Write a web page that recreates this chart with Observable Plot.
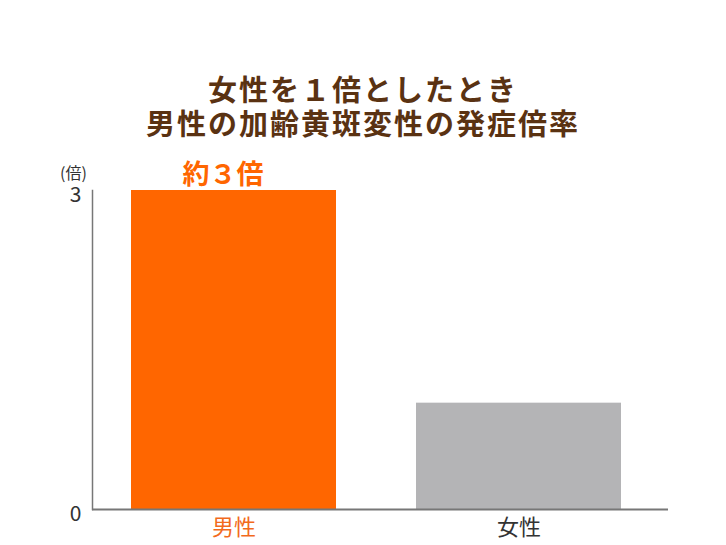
<!DOCTYPE html>
<html><head><meta charset="utf-8">
<script src="https://cdn.jsdelivr.net/npm/d3@7"></script>
<script src="https://cdn.jsdelivr.net/npm/@observablehq/plot@0.6"></script>
<style>
body{margin:0;background:#fff;font-family:"Noto Sans CJK JP",sans-serif;}
#wrap{width:726px;}
h1{margin:0;padding-top:71px;text-align:center;font-size:29px;line-height:34px;font-weight:bold;color:#5a3212;letter-spacing:2px;}
</style></head>
<body><div id="wrap">
<h1><div id="t1"></div><div id="t2"></div></h1>
<div id="chart"></div>
</div>
<script>
const titleLines = ["女性を１倍としたとき", "男性の加齢黄斑変性の発症倍率"];
const categories = ["男性", "女性"];
const values = [3, 1];
const barColors = ["#ff6600", "#b4b4b6"];
const labelColors = ["#f26a1c", "#333333"];
const yTicks = [0, 3];
const yUnit = "(倍)";
const annotation = "約３倍";

document.getElementById("t1").textContent = titleLines[0];
document.getElementById("t2").textContent = titleLines[1];

const data = categories.map((c, i) => ({cat: c, value: values[i], color: barColors[i], lc: labelColors[i]}));

const chart = Plot.plot({
  width: 726,
  height: 406,
  marginTop: 51,
  marginBottom: 36,
  marginLeft: 92,
  marginRight: 58,
  style: {fontFamily: '"Noto Sans CJK JP", sans-serif', color: "#333"},
  x: {domain: categories, paddingInner: 0.28, paddingOuter: 0.149, align: 0.46, axis: null},
  y: {domain: [0, 3], axis: null},
  marks: [
    Plot.barY(data, {x: "cat", y: "value", fill: d => d.color}),
    Plot.frame({anchor: "left", stroke: "#777", strokeWidth: 1.5}),
    Plot.ruleY([0], {stroke: "#777", strokeWidth: 2}),
    Plot.axisY(yTicks, {tickSize: 0, tickPadding: 11, fontSize: 21, label: null, fill: "#333", tickFormat: "d", dy: 5}),
    Plot.text([yUnit], {frameAnchor: "top-left", dx: -19, dy: -23, fontSize: 16, fill: "#333", textAnchor: "middle"}),
    Plot.text(data, {x: "cat", y: 0, text: "cat", dy: 18, fontSize: 22, fill: d => d.lc}),
    Plot.text([data[0]], {x: "cat", y: "value", text: () => annotation, dy: -15, dx: -11, fontSize: 27, fontWeight: "bold", fill: "#ff6600"})
  ]
});
document.getElementById("chart").appendChild(chart);
</script>
</body></html>
